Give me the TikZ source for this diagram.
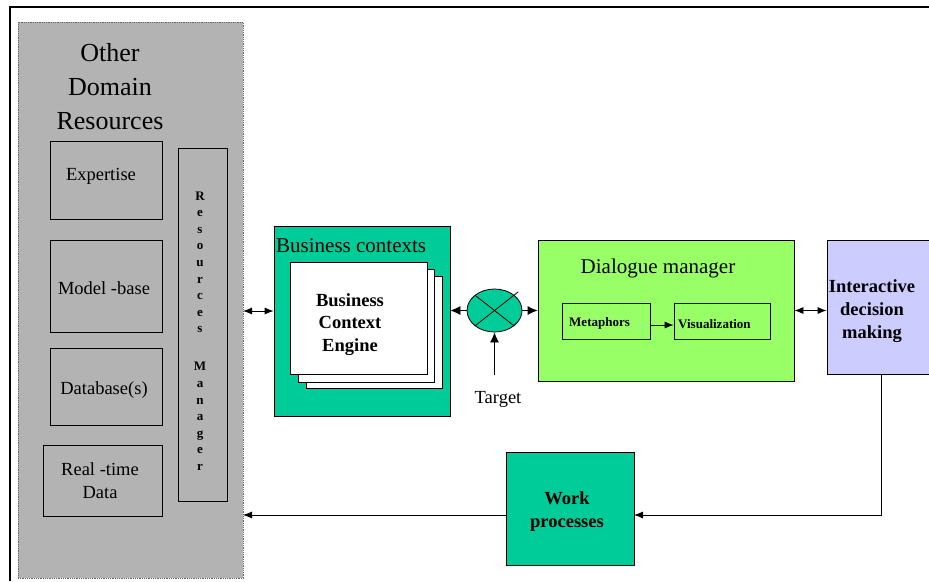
\documentclass[tikz,border=0pt]{standalone}
\usepackage{fontspec}
\setmainfont{Liberation Serif}
\usetikzlibrary{arrows.meta,shapes.geometric,calc}
\definecolor{grayfill}{HTML}{B3B3B3}
\definecolor{tealc}{HTML}{00CC99}
\definecolor{lgreen}{HTML}{99FF66}
\definecolor{lav}{HTML}{CCCCFF}
\tikzset{
  box/.style={draw=black, line width=0.8pt, rectangle, inner sep=0pt},
  txt/.style={inner sep=0pt, align=center},
  arr/.style={line width=0.8pt, -{Latex[length=9pt,width=7pt]}},
  bigarr/.style={line width=0.8pt, -{Latex[length=10pt,width=9pt]}},
  darr/.style={line width=0.8pt, {Latex[length=9pt,width=7pt]}-{Latex[length=9pt,width=7pt]}},
  big/.style={font=\fontsize{26}{34}\selectfont},
  mid/.style={font=\fontsize{21}{25}\selectfont},
  norm/.style={font=\fontsize{18.5}{23}\selectfont},
  bnorm/.style={font=\bfseries\fontsize{18.5}{22.7}\selectfont},
  small/.style={font=\bfseries\fontsize{13}{16}\selectfont},
}
\begin{document}
\begin{tikzpicture}[x=1pt,y=-1pt]
\clip (0,0) rectangle (929,581);
\fill[white] (0,0) rectangle (929,581);
% frame
\draw[line width=2pt] (929,7) -- (10,7) -- (10,581);
% other domain resources
\node[box, draw=black!60, densely dotted, line width=0.5pt, fill=grayfill, minimum width=225pt, minimum height=556pt] (odr) at (130.5,300) {};
\node[txt, big] (odrt) at (110,87) {Other\\Domain\\Resources};
\node[box, minimum width=112pt, minimum height=78pt] (exp) at (106,180) {};
\node[txt, norm] (expt) at (101,176) {Expertise};
\node[box, minimum width=112pt, minimum height=92pt] (mb) at (106,286) {};
\node[txt, norm] (mbt) at (104,288) {Model -base};
\node[box, minimum width=112pt, minimum height=77pt] (db) at (106,386.5) {};
\node[txt, norm] (dbt) at (104,390) {Database(s)};
\node[box, minimum width=119pt, minimum height=71pt] (rt) at (102.5,480.5) {};
\node[txt, norm] (rtt) at (100,481) {Real -time\\Data};
\node[box, minimum width=49pt, minimum height=353pt] (rm) at (202.5,324.5) {};
\node[txt, font=\bfseries\fontsize{13}{16.6}\selectfont] (rmt) at (200,331) {R\\e\\s\\o\\u\\r\\c\\e\\s\\[21.4pt]M\\a\\n\\a\\g\\e\\r};
% business contexts
\node[box, fill=tealc, minimum width=176pt, minimum height=190pt] (bc) at (362,321) {};
\node[txt, mid, anchor=west] (bct) at (276,246) {Business contexts};
\node[box, fill=white, minimum width=136pt, minimum height=112pt] (p3) at (374,332) {};
\node[box, fill=white, minimum width=136pt, minimum height=113pt] (p2) at (366,325.5) {};
\node[box, fill=white, minimum width=137pt, minimum height=112pt] (p1) at (358.5,318) {};
\node[txt, bnorm] (bce) at (350,324.5) {Business\\Context\\Engine};
\coordinate (a1) at (243,311);
\draw[darr] (a1) -- (a1 -| bc.west);
% summing junction
\node[draw=black, line width=0.8pt, fill=tealc, ellipse, minimum width=55pt, minimum height=43pt, inner sep=0pt] (sum) at (494.5,310.5) {};
\draw[line width=0.8pt] (sum.north west) -- (sum.south east);
\draw[line width=0.8pt] (sum.south west) -- ($(sum.south west)!1.1!(sum.north east)$);
\node[txt, norm] (tgt) at (498,399) {Target};
\coordinate (tg) at (494.5,375);
\draw[bigarr] (tg) -- (sum.south);
% dialogue manager
\node[box, fill=lgreen, minimum width=256pt, minimum height=141pt] (dm) at (666,310.5) {};
\node[txt, mid] (dmt) at (658,268) {Dialogue manager};
\node[box, minimum width=88pt, minimum height=36pt] (met) at (606,321) {};
\node[box, minimum width=96pt, minimum height=36pt] (vis) at (722,321) {};
\node[txt, small, anchor=west] (mett) at (569,323) {Metaphors};
\node[txt, small, anchor=west] (vist) at (678,324) {Visualization};
\draw[arr] ([yshift=-4pt]met.east) -- ([yshift=-4pt]met.east -| vis.west);
\draw[bigarr] (sum.west) -- (sum.west -| bc.east);
\draw[bigarr] (sum.east) -- (sum.east -| dm.west);
% interactive decision making
\node[box, fill=lav, minimum width=108pt, minimum height=134pt] (idm) at (881,307) {};
\node[txt, bnorm] (idmt) at (872,311) {Interactive\\decision\\making};
\draw[darr] (dm.east) -- (dm.east -| idm.west);
% work processes
\node[box, fill=tealc, minimum width=128pt, minimum height=113pt] (wp) at (570,508.5) {};
\node[txt, bnorm] (wpt) at (567,511.5) {Work\\processes};
\coordinate (wpin) at (634,515);
\coordinate (odrin) at (243,515);
\draw[arr] (idm.south) |- (wpin);
\draw[arr] (wp.west |- odrin) -- (odrin);
\end{tikzpicture}
\end{document}
